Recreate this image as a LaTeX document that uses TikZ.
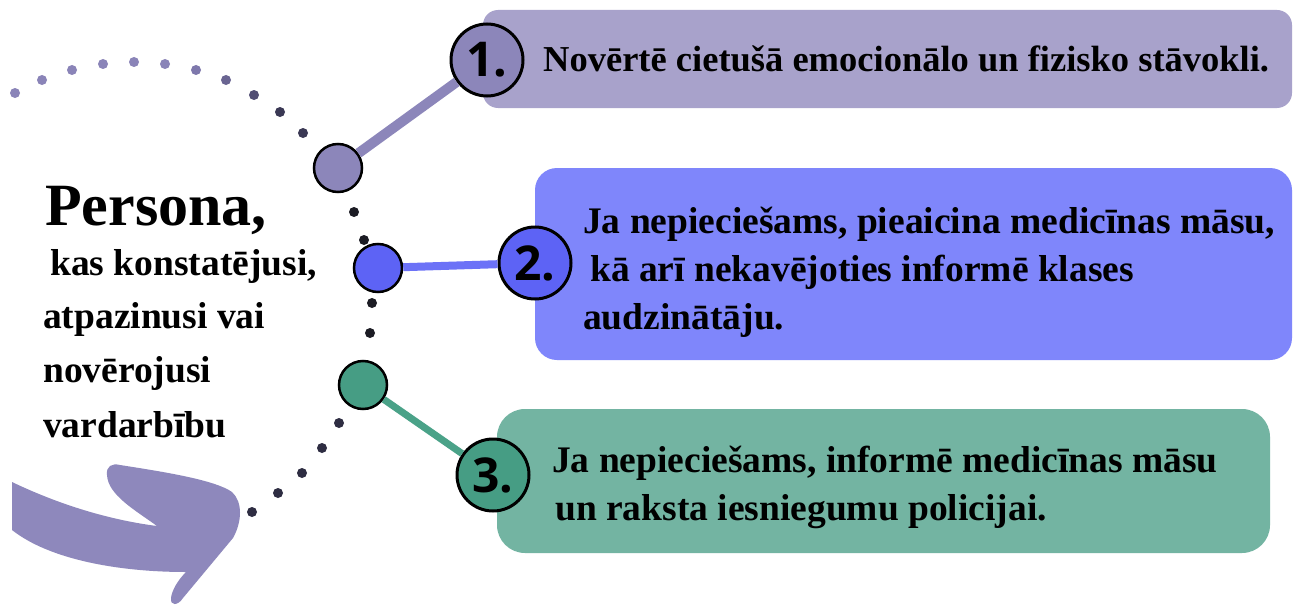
\documentclass[tikz,border=0pt]{standalone}
\usepackage{fontspec}
\setmainfont{Liberation Serif}
\newfontfamily\numfont{Open Sans}
\definecolor{boxA}{HTML}{A8A2CB}
\definecolor{circA}{HTML}{8C86BA}
\definecolor{boxB}{HTML}{7F86FB}
\definecolor{circB}{HTML}{5D63F5}
\definecolor{lineB}{HTML}{6C72F7}
\definecolor{boxC}{HTML}{73B4A2}
\definecolor{circC}{HTML}{469D84}
\definecolor{lineC}{HTML}{4AA288}
\definecolor{arrowcol}{HTML}{8E88BC}
\definecolor{dotL}{HTML}{8A84B8}
\definecolor{dotLL}{HTML}{7E78AC}
\definecolor{dotMa}{HTML}{6A6592}
\definecolor{dotMb}{HTML}{524E74}
\definecolor{dotD}{HTML}{3A3854}
\definecolor{dotK}{HTML}{1C1C24}
\definecolor{dotN}{HTML}{2E2D42}
\tikzset{
  bignum/.style={circle, draw=black, line width=3pt, minimum size=72pt, inner sep=0pt,
    font=\numfont\bfseries\fontsize{48}{48}\selectfont},
  hub/.style={circle, draw=black, line width=2.5pt, minimum size=48pt, inner sep=0pt},
  txt/.style={anchor=base west, inner sep=0pt, font=\bfseries\fontsize{37.5}{37.5}\selectfont},
  dotnode/.style={circle, inner sep=0pt, minimum size=10pt},
}
\begin{document}
\begin{tikzpicture}[x=1pt,y=-1pt]
\useasboundingbox (0,0) rectangle (1293,610);
\fill[white] (0,0) rectangle (1293,610);

% boxes
\fill[boxA, rounded corners=15pt] (483,10) rectangle (1292,108);
\fill[boxB, rounded corners=22pt] (535,168) rectangle (1292,360);
\fill[boxC, rounded corners=28pt] (497,409) rectangle (1270,553);

% big curved arrow
\fill[arrowcol] (12,482) .. controls (60,505) and (110,520) .. (157,526)
  .. controls (135,510) and (108,495) .. (107,475)
  .. controls (106,466) and (112,463) .. (120,465)
  .. controls (165,472) and (215,480) .. (232,492)
  .. controls (243,502) and (242,522) .. (233,538)
  -- (183,598)
  .. controls (178,606) and (170,606) .. (171,598)
  .. controls (172,590) and (178,580) .. (186,572)
  .. controls (120,572) and (50,560) .. (12,530) -- cycle;

% dotted arc
\foreach \x/\y/\c [count=\i] in {15/93/dotL, 42/80/dotL, 72/70/dotL, 103/64/dotL,
  134/62/dotL, 165/64/dotL, 196/70/dotLL, 226/80/dotMa, 254/95/dotMb, 280/112/dotD,
  303/133/dotD, 354/212/dotK, 364/240/dotK, 372/303/dotK, 370/333/dotK,
  339/423/dotN, 322/448/dotN, 302/473/dotN, 278/493/dotN, 252/512/dotN}
  \node[dotnode, fill=\c] (dot\i) at (\x,\y) {};

% hubs on the arc
\node[hub, fill=circA] (s1) at (338,168) {};
\node[hub, fill=circB] (s2) at (378,268) {};
\node[hub, fill=circC] (s3) at (363,385) {};

% numbered circles
\node[bignum, fill=circA] (c1) at (487,60) {1.};
\node[bignum, fill=circB] (c2) at (535,263) {2.};
\node[bignum, fill=circC] (c3) at (493,475) {3.};

% connectors
\draw[circA, line width=10pt] (s1) -- (c1);
\draw[lineB, line width=8pt] (s2) -- (c2);
\draw[lineC, line width=7pt] (s3) -- (c3);

% texts
\node[txt, font=\bfseries\fontsize{36.5}{36.5}\selectfont] (t1) at (543,71) {Novērtē cietušā emocionālo un fizisko stāvokli.};
\node[txt] (t2a) at (583,233) {Ja nepieciešams, pieaicina medicīnas māsu,};
\node[txt] (t2b) at (590,281) {kā arī nekavējoties informē klases};
\node[txt] (t2c) at (583,329) {audzinātāju.};
\node[txt] (t3a) at (552,472) {Ja nepieciešams, informē medicīnas māsu};
\node[txt] (t3b) at (555,520) {un raksta iesniegumu policijai.};

\node[txt, font=\bfseries\fontsize{60}{60}\selectfont] (p0) at (45,225) {Persona,};
\node[txt] (p1) at (50,275) {kas konstatējusi,};
\node[txt] (p2) at (43,328) {atpazinusi vai};
\node[txt] (p3) at (43,382) {novērojusi};
\node[txt] (p4) at (43,437) {vardarbību};
\end{tikzpicture}
\end{document}
